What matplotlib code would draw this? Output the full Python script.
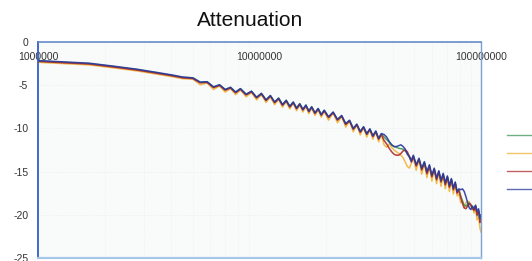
import matplotlib
matplotlib.use("Agg")
import matplotlib.pyplot as plt
from matplotlib.ticker import FixedLocator, NullFormatter

plt.rcParams['font.family'] = ['Liberation Sans', 'DejaVu Sans']

title = "Attenuation"
series_names = ["", "", "", ""]
x_ticks = [1e6, 1e7, 1e8]
x_tick_labels = ["1000000", "10000000", "100000000"]
y_ticks = [0, -5, -10, -15, -20, -25]
y_tick_labels = ["0", "-5", "-10", "-15", "-20", "-25"]

freq_mhz = [1.0, 1.3, 1.7, 2.2, 2.8, 3.4, 4.0, 4.5,
            5.0, 5.4, 5.8, 6.2, 6.6, 7.0, 7.4, 7.8, 8.2, 8.7, 9.2, 9.7, 10.2, 10.7,
            11.2, 11.7, 12.2, 12.7, 13.2, 13.7, 14.2, 14.7, 15.2, 15.7, 16.2, 16.7,
            17.2, 17.8, 18.4, 19.0, 19.6,
            20.5, 21.5, 22.5, 23.5, 24.5, 25.5, 26.5, 27.5, 28.5, 29.5, 30.5, 31.5,
            32.5, 33.5, 34.5, 35.5,
            36.5, 37.5, 38.5, 39.5, 40.5, 41.5, 42.5, 43.5, 44.5, 45.5, 46.5, 47.5, 48.5,
            49.5,
            51, 52.5, 54, 55.5, 57, 58.5, 60, 61.5, 63, 64.5, 66, 67.5, 69, 70.5, 72,
            73.5, 75, 76.5,
            78, 79.5, 81, 82.5, 84, 85.5, 87, 88.5, 90, 91.5, 93,
            94.5, 96, 97.5, 99, 100]

green_db = [-2.2, -2.35, -2.5, -2.85, -3.2, -3.55, -3.85, -4.1,
            -4.15, -4.65, -4.6, -5.2, -4.95, -5.5, -5.25, -5.8, -5.4, -6.05, -5.7, -6.4,
            -5.95, -6.7, -6.2, -6.95, -6.5, -7.25, -6.75, -7.45, -6.95, -7.65, -7.15, -7.8,
            -7.3, -8.0, -7.5, -8.2, -7.7, -8.4, -7.9,
            -8.7, -8.15, -9.0, -8.55, -9.5, -9.1, -10.05, -9.55, -10.4, -9.85, -10.65, -10.1,
            -10.9, -10.35, -11.2, -10.65,
            -11.0, -11.3, -11.6, -11.9, -12.1, -12.2, -12.3, -12.35, -12.4, -12.6, -12.9, -13.2, -13.6,
            -13.2,
            -14.3, -13.55, -14.75, -13.95, -15.15, -14.35, -15.55, -14.7, -15.85, -15.0, -16.15,
            -15.3, -16.45, -15.6, -16.75, -15.9, -17.05, -16.3,
            -17.4, -17.1, -17.8, -18.4, -18.9, -19.0, -18.8, -18.6, -18.9, -19.2, -19.4,
            -18.9, -20.1, -19.5, -20.7, -20.3]

yellow_db = [-2.35, -2.5, -2.65, -3.0, -3.35, -3.7, -4.0, -4.25,
             -4.3, -4.95, -4.75, -5.5, -5.1, -5.8, -5.4, -6.1, -5.55, -6.35, -5.85, -6.7,
             -6.1, -7.0, -6.35, -7.25, -6.65, -7.55, -6.9, -7.75, -7.1, -7.95, -7.3, -8.1,
             -7.45, -8.3, -7.65, -8.5, -7.85, -8.7, -8.05,
             -9.05, -8.2, -9.35, -8.6, -9.85, -9.15, -10.4, -9.6, -10.75, -9.9, -11.0, -10.15,
             -11.25, -10.4, -11.55, -10.7,
             -11.9, -12.2, -11.8, -12.2, -12.5, -12.7, -12.9, -13.1, -13.4, -13.9, -14.4, -14.6, -14.0,
             -13.4,
             -14.85, -13.6, -15.3, -14.0, -15.7, -14.4, -16.1, -14.75, -16.4, -15.05, -16.7,
             -15.35, -17.0, -15.65, -17.3, -15.95, -17.6, -16.35,
             -17.8, -17.6, -18.6, -18.4, -19.2, -18.6, -18.4, -18.5, -19.1, -19.0, -19.8,
             -19.3, -20.6, -20.2, -21.6, -22.0]

red_db = [-2.25, -2.4, -2.55, -2.9, -3.25, -3.6, -3.9, -4.15,
          -4.23, -4.73, -4.68, -5.28, -5.03, -5.58, -5.33, -5.88, -5.48, -6.13, -5.78, -6.48,
          -6.03, -6.78, -6.28, -7.03, -6.58, -7.33, -6.83, -7.53, -7.03, -7.73, -7.23, -7.88,
          -7.38, -8.08, -7.58, -8.28, -7.78, -8.48, -7.98,
          -8.75, -8.2, -9.05, -8.6, -9.55, -9.15, -10.1, -9.6, -10.45, -9.9, -10.7, -10.15,
          -10.95, -10.4, -11.25, -10.7,
          -11.4, -11.8, -12.3, -12.7, -13.0, -13.1, -13.1, -12.9, -12.6, -12.5, -12.7, -13.3, -13.9,
          -13.25,
          -14.35, -13.6, -14.8, -14.0, -15.25, -14.4, -15.6, -14.75, -15.95, -15.05, -16.2,
          -15.35, -16.55, -15.65, -16.8, -15.95, -17.1, -16.35,
          -17.5, -17.2, -18.0, -18.7, -19.2, -19.3, -19.0, -18.7, -18.8, -19.3, -19.5,
          -19.0, -20.0, -19.6, -20.9, -20.6]

blue_db = [-2.15, -2.3, -2.45, -2.8, -3.15, -3.5, -3.8, -4.05,
           -4.15, -4.65, -4.6, -5.2, -4.95, -5.5, -5.25, -5.8, -5.4, -6.05, -5.7, -6.4,
           -5.95, -6.7, -6.2, -6.95, -6.5, -7.25, -6.75, -7.45, -6.95, -7.65, -7.15, -7.8,
           -7.3, -8.0, -7.5, -8.2, -7.7, -8.4, -7.9,
           -8.65, -8.1, -8.95, -8.5, -9.45, -9.05, -10.0, -9.5, -10.35, -9.8, -10.6, -10.05,
           -10.85, -10.3, -11.15, -10.6,
           -10.7, -11.0, -11.5, -11.9, -12.1, -12.1, -12.0, -11.9, -12.1, -12.4, -13.0, -13.3, -13.8,
           -13.1,
           -14.2, -13.45, -14.6, -13.85, -15.0, -14.2, -15.4, -14.6, -15.75, -14.9, -16.0,
           -15.2, -16.3, -15.5, -16.6, -15.8, -16.9, -16.2,
           -17.3, -17.0, -17.1, -17.0, -17.3, -17.9, -18.6, -19.2, -19.4, -19.0, -19.3,
           -18.9, -19.6, -19.3, -20.4, -20.0]

freq_hz = [f * 1e6 for f in freq_mhz]

fig = plt.figure(figsize=(5.32, 2.61), dpi=100, facecolor="#ffffff")
ax = fig.add_axes([38 / 532, 1 - 258 / 261, (481 - 38) / 532, (258 - 42) / 261])
ax.set_facecolor("#f9fafa")

colors = ["#3f9657", "#f0b43a", "#b02a2a", "#27399e"]
data = [green_db, yellow_db, red_db, blue_db]
order = [1, 0, 2, 3]
handles = [None] * 4
for i in order:
    ln, = ax.plot(freq_hz, data[i], color=colors[i], lw=1.1, alpha=0.9,
                  solid_joinstyle="round")
    handles[i] = ln

ax.set_xscale("log")
ax.set_xlim(1e6, 1e8)
ax.set_ylim(-25, 0)

ax.xaxis.set_major_locator(FixedLocator(x_ticks))
ax.set_xticklabels(x_tick_labels)
ax.xaxis.set_minor_formatter(NullFormatter())
ax.set_yticks(y_ticks)
ax.set_yticklabels(y_tick_labels)

ax.tick_params(axis="x", which="both", top=True, bottom=False, labeltop=True,
               labelbottom=False, length=0, pad=-14.5, labelsize=7.5, colors="#333333")
ax.tick_params(axis="y", which="both", length=0, pad=7, labelsize=7.5, colors="#333333")

ax.grid(True, axis="y", color="#e8ecec", lw=0.6, ls=":")
ax.grid(True, axis="x", which="minor", color="#eceff0", lw=0.6, ls=":")

ax.spines["left"].set_color("#2f5fc4")
ax.spines["left"].set_linewidth(1.3)
ax.spines["top"].set_color("#5a82c6")
ax.spines["top"].set_linewidth(1.1)
ax.spines["right"].set_color("#7aa0d6")
ax.spines["right"].set_linewidth(1.0)
ax.spines["bottom"].set_color("#a6c6ea")
ax.spines["bottom"].set_linewidth(1.6)

fig.text(250 / 532, 1 - 21 / 261, title, ha="center", va="center",
         fontsize=15, color="#111111")

leg = fig.legend([handles[i] for i in range(4)], series_names,
                 loc="upper left", bbox_to_anchor=(507 / 532, 1 - 130 / 261),
                 frameon=False, fontsize=7.2, borderpad=0, borderaxespad=0,
                 handlelength=3.0, handletextpad=0, labelspacing=0.80)
for lh in leg.get_lines():
    lh.set_linewidth(1.0)
    lh.set_alpha(0.75)

fig.savefig("out.png", dpi=100, facecolor=fig.get_facecolor())
